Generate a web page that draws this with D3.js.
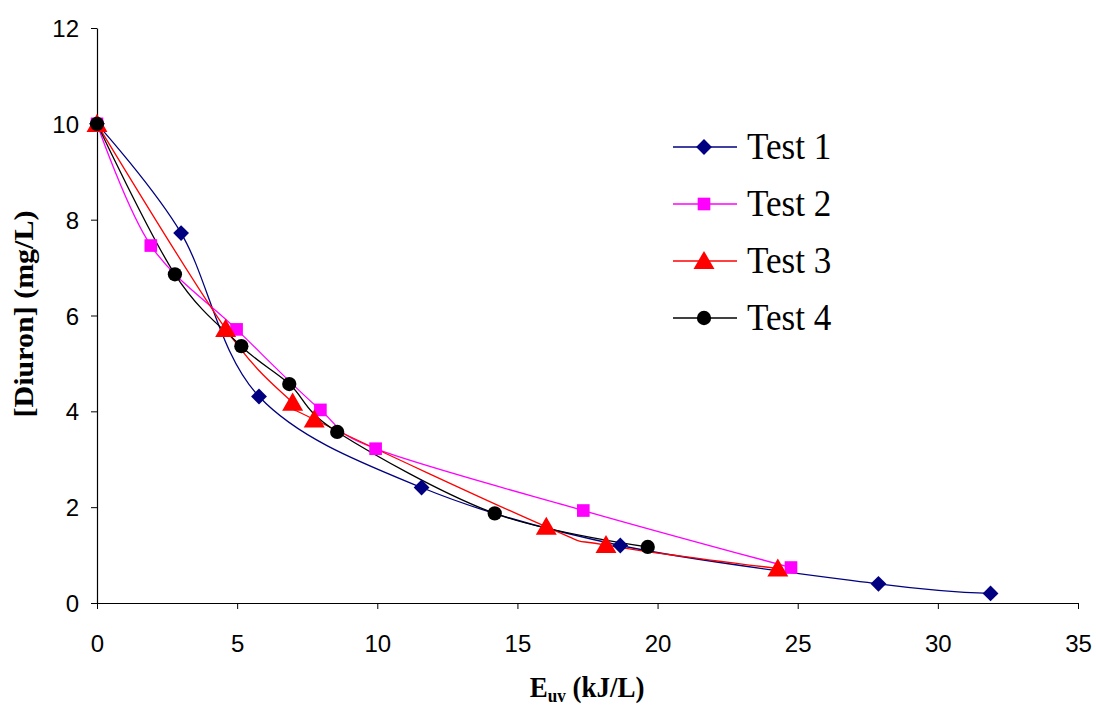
<!DOCTYPE html>
<html><head><meta charset="utf-8">
<script src="https://cdn.jsdelivr.net/npm/d3@7"></script>
<style>body{margin:0;background:#fff;} svg{display:block;} .serif{font-family:"Liberation Serif","Times New Roman",Times,serif;} .sans{font-family:"Liberation Sans",Arial,Helvetica,sans-serif;}</style>
</head><body>
<svg id="chart" width="1096" height="707"></svg>
<script>
const seriesNames = ["Test 1", "Test 2", "Test 3", "Test 4"];
const test1 = [[0,10],[3.0,7.72],[5.78,4.31],[11.58,2.41],[18.67,1.20],[27.88,0.40],[31.88,0.20]];
const test2 = [[0,10],[1.92,7.46],[4.98,5.71],[7.97,4.03],[9.94,3.22],[17.35,1.93],[24.76,0.74]];
const test3 = [[0,10],[4.59,5.72],[6.98,4.18],[7.75,3.83],[16.03,1.59],[18.16,1.21],[24.29,0.72]];
const test4 = [[0,10],[2.78,6.86],[5.15,5.36],[6.86,4.57],[8.57,3.57],[14.19,1.87],[19.65,1.17]];
const xTicks = [0,5,10,15,20,25,30,35];
const yTicks = [0,2,4,6,8,10,12];
const xTitle = "E", xTitleSub = "uv", xTitleRest = " (kJ/L)";
const yTitle = "[Diuron] (mg/L)";

const colors = ["#000080","#FF00FF","#FF0000","#000000"];
const data = [test1,test2,test3,test4];

const svg = d3.select("#chart");
const x = d3.scaleLinear().domain([0,35]).range([97,1078]);
const y = d3.scaleLinear().domain([0,12]).range([603,28]);
const SX = 0.9;

function marker(g, i) {
  if (i === 0) {
    g.append("path").attr("d", d3.symbol().type(d3.symbolSquare).size(125)()).attr("transform","rotate(45)").attr("fill",colors[i]);
  } else if (i === 1) {
    g.append("path").attr("d", d3.symbol().type(d3.symbolSquare).size(160)()).attr("fill",colors[i]);
  } else if (i === 2) {
    g.append("path").attr("d", d3.symbol().type(d3.symbolTriangle).size(190)()).attr("transform","translate(0,2)").attr("fill",colors[i]);
  } else {
    g.append("path").attr("d", d3.symbol().type(d3.symbolCircle).size(160)()).attr("fill",colors[i]);
  }
}

// axes
const gx = svg.append("g").attr("transform",`translate(0,${y(0)})`)
  .call(d3.axisBottom(x).tickValues(xTicks).tickSize(6).tickSizeOuter(0).tickFormat(d3.format("d")));
gx.attr("font-family",null).attr("font-size",null);
gx.select(".domain").attr("stroke","#000").attr("stroke-width",1.2);
gx.selectAll(".tick line").attr("stroke","#000");
gx.selectAll(".tick text").attr("y",0).attr("dy",0).attr("class","sans")
  .attr("transform",`translate(0,49)`)
  .attr("font-size","24px").attr("fill","#000");

const gy = svg.append("g").attr("transform",`translate(${x(0)},0)`)
  .call(d3.axisLeft(y).tickValues(yTicks).tickSize(6).tickSizeOuter(0).tickFormat(d3.format("d")));
gy.attr("font-family",null).attr("font-size",null);
gy.select(".domain").attr("stroke","#000").attr("stroke-width",1.2);
gy.selectAll(".tick line").attr("stroke","#000");
gy.selectAll(".tick text").attr("x",0).attr("dy",0).attr("class","sans")
  .attr("transform",`translate(-18,8.5)`)
  .attr("font-size","24px").attr("fill","#000");

// titles
const xt = svg.append("text").attr("class","serif").attr("transform",`translate(587,697) scale(${SX},1)`)
  .attr("text-anchor","middle").attr("font-weight","bold").attr("font-size","30px");
xt.append("tspan").text(xTitle);
xt.append("tspan").text(xTitleSub).attr("dy",5).attr("font-size","19px");
xt.append("tspan").text(xTitleRest).attr("dy",-5);

svg.append("text").attr("class","serif").attr("transform",`translate(33,314) rotate(-90) scale(1,${SX})`)
  .attr("text-anchor","middle").attr("font-weight","bold").attr("font-size","30px")
  .text(yTitle);

// lines
const line = d3.line().x(d=>x(d[0])).y(d=>y(d[1])).curve(d3.curveCardinal.tension(0));
data.forEach((s,i)=>{
  svg.append("path").attr("d",line(s)).attr("fill","none").attr("stroke",colors[i]).attr("stroke-width",1.3);
});
data.forEach((s,i)=>{
  svg.append("g").selectAll("g").data(s).join("g")
    .attr("transform",d=>`translate(${x(d[0])},${y(d[1])})`)
    .each(function(){ marker(d3.select(this), i); });
});

// legend
const lg = svg.append("g");
seriesNames.forEach((n,i)=>{
  const yy = 147 + i*57;
  lg.append("line").attr("x1",673).attr("x2",737).attr("y1",yy).attr("y2",yy)
    .attr("stroke",colors[i]).attr("stroke-width",1.3);
  marker(lg.append("g").attr("transform",`translate(704,${yy})`), i);
  lg.append("text").attr("class","serif").attr("transform",`translate(747,${yy+12}) scale(0.95,1)`)
    .attr("font-size","37px").text(n);
});
</script>
</body></html>
